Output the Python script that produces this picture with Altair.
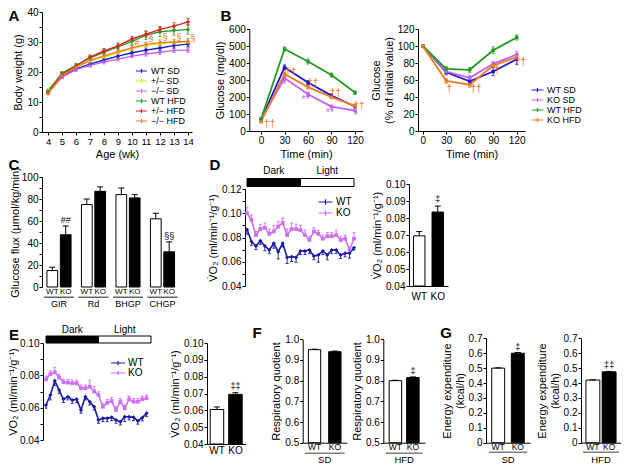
import altair as alt
import pandas as pd

W, H = 613, 457
M = 8
FONT = "Liberation Sans"
SIGC = "#ee6a1e"
VO2 = "V\u0307O\u2082 (ml/min\u207b\u00b9/g\u207b\u00b9)"


def cx(p):
    return p - M


def cy(p):
    return p - M


def sym_path(half_w):
    return f"M-{half_w},0L{half_w},0M0,-0.6L0,0.6"


# ---------------- A: body weight ----------------
weeks = [4, 5, 6, 7, 8, 9, 10, 11, 12, 13, 14]
bw_names = ["WT SD", "+/\u2212 SD", "\u2212/\u2212 SD", "WT HFD", "+/\u2212 HFD", "\u2212/\u2212 HFD"]
bw_colors = ["#1c1cc8", "#c6ee3e", "#c262f2", "#249a24", "#e2201e", "#f27a22"]
bw_wt_sd = [13.5, 18.5, 21.0, 22.6, 24.0, 25.3, 26.4, 27.3, 28.0, 28.8, 29.3]
bw_het_sd = [14.0, 19.0, 21.6, 23.6, 25.0, 26.4, 27.8, 28.8, 29.4, 29.8, 30.0]
bw_ko_sd = [13.0, 18.3, 20.8, 22.2, 23.3, 24.3, 25.3, 26.0, 26.6, 27.2, 27.3]
bw_wt_hfd = [13.6, 19.6, 22.2, 24.6, 26.6, 28.4, 30.2, 32.3, 33.4, 33.8, 34.2]
bw_het_hfd = [13.0, 19.2, 22.0, 25.0, 27.0, 28.7, 31.0, 32.6, 34.2, 35.3, 36.7]
bw_ko_hfd = [12.8, 18.8, 21.6, 23.9, 25.4, 26.8, 28.0, 29.2, 29.8, 30.0, 30.2]
bw_values = [bw_wt_sd, bw_het_sd, bw_ko_sd, bw_wt_hfd, bw_het_hfd, bw_ko_hfd]
bw_errors = [
    [0.5, 0.6, 0.6, 0.6, 0.6, 0.7, 0.7, 0.7, 0.8, 0.8, 0.8],
    [0.6, 0.6, 0.6, 0.7, 0.7, 0.8, 0.8, 0.9, 0.9, 0.9, 1.0],
    [0.4, 0.5, 0.5, 0.5, 0.6, 0.6, 0.6, 0.7, 0.7, 0.7, 0.8],
    [0.5, 0.6, 0.7, 0.8, 0.9, 1.0, 1.2, 1.4, 1.5, 1.5, 1.6],
    [0.5, 0.6, 0.6, 0.7, 0.8, 0.9, 0.9, 1.0, 1.0, 1.1, 1.1],
    [0.4, 0.5, 0.6, 0.6, 0.7, 0.7, 0.8, 0.8, 0.9, 0.9, 0.9],
]
sigA_weeks = [10, 11, 12, 13, 14]
sigA_vals = [29.8, 31.5, 31.8, 31.8, 31.5]
sigA_text = ["#", "\u00a7", "\u00a7", "\u00a7", "\u00a7"]

# ---------------- B: glucose tolerance ----------------
times = [0, 30, 60, 90, 120]
glc_names = ["WT SD", "KO SD", "WT HFD", "KO HFD"]
glc_colors = ["#1c1cc8", "#c262f2", "#249a24", "#f27a22"]
glc_wt_sd = [65, 374, 285, 208, 144]
glc_ko_sd = [65, 311, 216, 144, 120]
glc_wt_hfd = [71, 482, 409, 329, 226]
glc_ko_hfd = [55, 336, 258, 199, 148]
glc_errors = [[5, 15, 12, 10, 8], [5, 12, 12, 8, 6], [6, 12, 15, 12, 10], [4, 12, 10, 8, 8]]
sigBL_t = [11, 38, 30, 66, 57, 95, 88, 125, 121]
sigBL_v = [42, 350, 268, 285, 185, 222, 104, 148, 86]
sigBL_text = ["\u2020\u2020", "\u2020\u2020", "*", "\u2020\u2020", "**", "\u2020\u2020", "**", "\u2020\u2020", "*"]
sigBL_series = ["KO HFD", "KO HFD", "KO SD", "KO HFD", "KO SD", "KO HFD", "KO SD", "KO HFD", "KO SD"]

pct_wt_sd = [100, 69, 58.5, 70, 84.5]
pct_ko_sd = [100, 70, 62.5, 79, 90]
pct_wt_hfd = [100, 73, 72, 95, 110]
pct_ko_hfd = [100, 59, 54.5, 77, 87]
pct_errors = [[0, 3, 3, 5, 6], [0, 3, 3, 3, 4], [0, 3, 3, 4, 3], [0, 3, 3, 3, 3]]
sigBR_t = [34, 68, 95, 125]
sigBR_v = [49, 50, 72, 81]
sigBR_text = ["\u2020", "\u2020\u2020", "\u2020", "\u2020\u2020"]

# ---------------- C: clamp ----------------
c_groups = ["GIR", "Rd", "BHGP", "CHGP"]
c_wt = [15, 75, 84, 62]
c_ko = [47.5, 87, 81, 32]
c_wt_err = [3, 5, 6, 5]
c_ko_err = [8, 4, 3, 9]
c_sig = ["##", "", "", "\u00a7\u00a7"]

# ---------------- D / E: VO2 ----------------
vo2_names = ["WT", "KO"]
vo2_colors = ["#1a1aa6", "#cc6ff0"]
d_hours = list(range(25))
d_wt = [0.0867, 0.0766, 0.0730, 0.0774, 0.0730, 0.0697, 0.0752, 0.0683, 0.0752, 0.0636, 0.0642, 0.0636, 0.0689,
        0.0689, 0.0697, 0.0647, 0.0656, 0.0689, 0.0656, 0.0697, 0.0697, 0.0656, 0.0670, 0.0670, 0.0716]
d_ko = [0.1000, 0.0945, 0.0820, 0.0870, 0.0880, 0.0830, 0.0850, 0.0890, 0.0920, 0.0820, 0.0870, 0.0870, 0.0860,
        0.0820, 0.0780, 0.0850, 0.0830, 0.0790, 0.0810, 0.0810, 0.0820, 0.0780, 0.0790, 0.0700, 0.0790]
d_wt_err = [0.004, 0.003, 0.003, 0.003, 0.004, 0.003, 0.004, 0.006, 0.003, 0.005, 0.004, 0.004, 0.003,
            0.003, 0.003, 0.003, 0.006, 0.003, 0.004, 0.003, 0.003, 0.003, 0.003, 0.004, 0.002]
d_ko_err = [0.005, 0.004, 0.003, 0.004, 0.004, 0.004, 0.005, 0.004, 0.004, 0.005, 0.005, 0.004, 0.004,
            0.004, 0.003, 0.003, 0.003, 0.003, 0.003, 0.003, 0.004, 0.003, 0.003, 0.002, 0.005]
d_bar = [0.0695, 0.0835]
d_bar_err = [0.0025, 0.0035]
d_bar_sig = ["", "\u2021"]

e_hours = list(range(24))
e_wt = [0.0617, 0.0678, 0.0767, 0.0709, 0.0652, 0.0668, 0.0647, 0.0652, 0.0586, 0.0668, 0.0637, 0.0606,
        0.0524, 0.0534, 0.0534, 0.0540, 0.0524, 0.0513, 0.0544, 0.0544, 0.0540, 0.0518, 0.0538, 0.0565]
e_ko = [0.0775, 0.0808, 0.0819, 0.0786, 0.0757, 0.0755, 0.0751, 0.0751, 0.0720, 0.0720, 0.0730, 0.0700,
        0.0678, 0.0606, 0.0630, 0.0641, 0.0586, 0.0637, 0.0596, 0.0652, 0.0637, 0.0637, 0.0652, 0.0658]
e_wt_err = [0.002, 0.003, 0.003, 0.002, 0.002, 0.002, 0.002, 0.002, 0.002, 0.002, 0.002, 0.002,
            0.002, 0.002, 0.002, 0.002, 0.002, 0.002, 0.003, 0.002, 0.002, 0.002, 0.002, 0.002]
e_ko_err = [0.002, 0.002, 0.003, 0.002, 0.002, 0.002, 0.002, 0.002, 0.002, 0.002, 0.004, 0.003,
            0.002, 0.002, 0.002, 0.002, 0.002, 0.002, 0.002, 0.002, 0.002, 0.002, 0.002, 0.002]
e_bar = [0.0605, 0.0695]
e_bar_err = [0.0015, 0.001]
e_bar_sig = ["", "\u2021\u2021"]

phase_names = ["Dark", "Light"]
phase_start = [0, 12]
phase_end = [12, 24]

# ---------------- F / G ----------------
rq_sd = [0.95, 0.94]
rq_sd_err = [0.002, 0.003]
rq_hfd = [0.80, 0.815]
rq_hfd_err = [0.002, 0.003]
rq_hfd_sig = ["\u2021"]
ee_sd = [0.50, 0.60]
ee_sd_err = [0.002, 0.004]
ee_sd_sig = ["\u2021"]
ee_hfd = [0.42, 0.475]
ee_hfd_err = [0.002, 0.003]
ee_hfd_sig = ["\u2021\u2021"]

panel_letters = ["A", "B", "C", "D", "E", "F", "G"]


# ================= helpers =================
def lscale(dom, a, b):
    return alt.Scale(domain=dom, range=[a, b], nice=False, zero=False)


def yaxis(xpage, values, title, expr=None, fmt=None, tpad=None):
    kw = dict(orient="left", offset=-cx(xpage), values=values, title=title)
    if expr is not None:
        kw["labelExpr"] = expr
    if fmt is not None:
        kw["format"] = fmt
    if tpad is not None:
        kw["titlePadding"] = tpad
    return alt.Axis(**kw)


def xaxis(ypage, values, title, fmt=None, fs=None):
    kw = dict(orient="bottom", offset=cy(ypage) - H, values=values, title=title, labelAngle=0)
    if fmt is not None:
        kw["format"] = fmt
    if fs is not None:
        kw["labelFontSize"] = fs
    return alt.Axis(**kw)


def leg(xpage, ypage, fs, size, half_w):
    return alt.Legend(orient="none", legendX=cx(xpage), legendY=cy(ypage), title=None, labelFontSize=fs,
                      symbolType=sym_path(half_w), symbolSize=size, symbolStrokeWidth=1.2, labelOffset=5,
                      rowPadding=0, padding=0, labelFont=FONT)


def long_df(xname, xs, names, values, errors):
    rows = []
    for n, vs, es in zip(names, values, errors):
        for x, v, e in zip(xs, vs, es):
            rows.append({xname: x, "series": n, "val": v, "err": e})
    return pd.DataFrame(rows)


def err_layers(df, X, sy, ay, col, up, down, cap=3, sw=0.8):
    base = alt.Chart(df).transform_calculate(lo=down, hi=up)
    rule = base.mark_rule(strokeWidth=sw).encode(x=X, y=alt.Y("lo:Q", scale=sy, axis=ay), y2="hi:Q", color=col)
    c1 = base.mark_tick(orient="horizontal", size=cap, thickness=sw, opacity=1).encode(
        x=X, y=alt.Y("hi:Q", scale=sy, axis=ay), color=col)
    c2 = base.mark_tick(orient="horizontal", size=cap, thickness=sw, opacity=1).encode(
        x=X, y=alt.Y("lo:Q", scale=sy, axis=ay), color=col)
    return [rule, c1, c2]


BOTH_UP = "datum.val + datum.err"
BOTH_DN = "datum.val - datum.err"
KO_UP = "datum.series === 'KO' ? datum.val + datum.err : datum.val"
WT_DN = "datum.series === 'KO' ? datum.val : datum.val - datum.err"

# ================= Panel A =================
dfA = long_df("week", weeks, bw_names, bw_values, bw_errors)
sxA = lscale([3.57, 14.29], cx(42), cx(192))
syA = lscale([0, 40], cy(132), cy(12))
XA = alt.X("week:Q", scale=sxA, axis=xaxis(132, weeks, "Age (wk)", fmt="d", fs=9.5))
ayA = yaxis(42, list(range(0, 41, 5)), "Body weight (g)", expr="datum.value % 10 === 0 ? datum.label : ''")
YA = alt.Y("val:Q", scale=syA, axis=ayA)
colA = alt.Color("series:N", scale=alt.Scale(domain=bw_names, range=bw_colors), legend=leg(137, 66.5, 9, 49, 1.6))
sigA_df = pd.DataFrame({"week": sigA_weeks, "val": sigA_vals, "txt": sigA_text})
panelA = alt.layer(
    alt.Chart(dfA).mark_line(strokeWidth=1.4).encode(x=XA, y=YA, color=colA),
    *err_layers(dfA, XA, syA, ayA, colA, BOTH_UP, BOTH_DN, cap=3),
    alt.Chart(dfA).mark_point(shape="cross", filled=True, size=14, opacity=1).encode(x=XA, y=YA, color=colA),
    alt.Chart(sigA_df).mark_text(color=SIGC, fontSize=9, dx=5).encode(x=XA, y=YA, text="txt:N"),
)

# ================= Panel B left =================
dfBL = long_df("t", times, glc_names, [glc_wt_sd, glc_ko_sd, glc_wt_hfd, glc_ko_hfd], glc_errors)
sxBL = lscale([-15, 130], cx(249.3), cx(362.8))
syBL = lscale([0, 600], cy(131), cy(29))
XBL = alt.X("t:Q", scale=sxBL, axis=xaxis(131, times, "Time (min)", fmt="d"))
ayBL = yaxis(249.3, list(range(0, 601, 100)), "Glucose (mg/dl)")
YBL = alt.Y("val:Q", scale=syBL, axis=ayBL)
colBL = alt.Color("series:N", scale=alt.Scale(domain=glc_names, range=glc_colors), legend=None)
sigBL_df = pd.DataFrame({"t": sigBL_t, "val": sigBL_v, "txt": sigBL_text, "series": sigBL_series})
panelBL = alt.layer(
    alt.Chart(dfBL).mark_line(strokeWidth=1.8).encode(x=XBL, y=YBL, color=colBL),
    *err_layers(dfBL, XBL, syBL, ayBL, colBL, BOTH_UP, BOTH_DN, cap=3),
    alt.Chart(dfBL).mark_point(shape="square", filled=True, size=12, opacity=1).encode(x=XBL, y=YBL, color=colBL),
    alt.Chart(sigBL_df).mark_text(fontSize=10).encode(x=XBL, y=YBL, text="txt:N", color=colBL),
)

# ================= Panel B right =================
dfBR = long_df("t", times, glc_names, [pct_wt_sd, pct_ko_sd, pct_wt_hfd, pct_ko_hfd], pct_errors)
sxBR = lscale([-6, 130.6], cx(418), cx(525))
syBR = lscale([0, 120], cy(131), cy(29))
XBR = alt.X("t:Q", scale=sxBR, axis=xaxis(131, times, "Time (min)", fmt="d"))
ayBR = yaxis(418, list(range(0, 121, 20)), ["Glucose", "(% of initial value)"])
YBR = alt.Y("val:Q", scale=syBR, axis=ayBR)
colBR = alt.Color("series:N", scale=alt.Scale(domain=glc_names, range=glc_colors), legend=leg(533, 85.5, 9, 49, 1.7))
sigBR_df = pd.DataFrame({"t": sigBR_t, "val": sigBR_v, "txt": sigBR_text})
panelBR = alt.layer(
    alt.Chart(dfBR).mark_line(strokeWidth=1.8).encode(x=XBR, y=YBR, color=colBR),
    *err_layers(dfBR, XBR, syBR, ayBR, colBR, BOTH_UP, BOTH_DN, cap=3),
    alt.Chart(dfBR).mark_point(shape="square", filled=True, size=12, opacity=1).encode(x=XBR, y=YBR, color=colBR),
    alt.Chart(sigBR_df).mark_text(fontSize=10, color=SIGC).encode(x=XBR, y=YBR, text="txt:N"),
)


# ================= grouped bar panels =================
def grouped_bars(groups, wt, ko, wt_err, ko_err, sig, ydom, ybot, ytop, yx, yvals, ytitle, yexpr,
                 xr, gpi, gpo, opi, opo, lab_y, line_y, grp_y, domain_line, lab_fs=9, grp_fs=9.5, tpad=None):
    rows = []
    for g, a, b, ea, eb, s in zip(groups, wt, ko, wt_err, ko_err, sig):
        rows.append(dict(grp=g, geno="WT", val=a, err=ea, sig=""))
        rows.append(dict(grp=g, geno="KO", val=b, err=eb, sig=s))
    df = pd.DataFrame(rows)
    gdf = pd.DataFrame({"grp": groups})
    sy = lscale(ydom, cy(ybot), cy(ytop))
    ay = yaxis(yx, yvals, ytitle, expr=yexpr, tpad=tpad)
    sx = alt.Scale(domain=groups, range=[cx(xr[0]), cx(xr[1])], paddingInner=gpi, paddingOuter=gpo)
    if domain_line:
        axx = alt.Axis(orient="bottom", offset=cy(ybot) - H, title=None, labels=False, ticks=False,
                       tickSize=0, domain=True)
    else:
        axx = None
    X = alt.X("grp:N", scale=sx, axis=axx)
    XO = alt.XOffset("geno:N", scale=alt.Scale(domain=["WT", "KO"], paddingInner=opi, paddingOuter=opo))
    Yv = alt.Y("val:Q", scale=sy, axis=ay)
    base = alt.Chart(df).transform_calculate(hi="datum.val + datum.err")
    return alt.layer(
        alt.Chart(df).mark_bar(stroke="black", strokeWidth=1).encode(
            x=X, xOffset=XO, y=Yv, y2=alt.datum(ydom[0]),
            fill=alt.condition("datum.geno === 'WT'", alt.value("white"), alt.value("black"))),
        base.mark_rule(strokeWidth=1, color="black").encode(x=X, xOffset=XO, y=Yv, y2="hi:Q"),
        base.mark_tick(orient="horizontal", size=6, thickness=1, color="black", opacity=1).encode(
            x=X, xOffset=XO, y=alt.Y("hi:Q", scale=sy, axis=ay)),
        base.mark_text(fontSize=9, baseline="bottom", dy=-1, color="black").encode(
            x=X, xOffset=XO, y=alt.Y("hi:Q", scale=sy, axis=ay), text="sig:N"),
        alt.Chart(df).mark_text(fontSize=lab_fs, baseline="middle", color="black").encode(
            x=X, xOffset=XO, y=alt.value(cy(lab_y)), text="geno:N"),
        alt.Chart(gdf).mark_bar(color="black").encode(x=X, y=alt.value(cy(line_y)), y2=alt.value(cy(line_y) + 0.9)),
        alt.Chart(gdf).mark_text(fontSize=grp_fs, baseline="middle", color="black").encode(
            x=X, y=alt.value(cy(grp_y)), text="grp:N"),
    )


def simple_bars(vals, errs, sig, ydom, ybot, ytop, yx, yvals, ytitle, yexpr, xr, pi, po, lab_pad):
    df = pd.DataFrame({"geno": ["WT", "KO"], "val": vals, "err": errs, "sig": sig})
    sy = lscale(ydom, cy(ybot), cy(ytop))
    ay = yaxis(yx, yvals, ytitle, expr=yexpr)
    X = alt.X("geno:N", scale=alt.Scale(domain=["WT", "KO"], range=[cx(xr[0]), cx(xr[1])], paddingInner=pi,
                                        paddingOuter=po),
              axis=alt.Axis(orient="bottom", offset=cy(ybot) - H, title=None, ticks=False, tickSize=0,
                            labelAngle=0, labelPadding=lab_pad, domain=True))
    Yv = alt.Y("val:Q", scale=sy, axis=ay)
    base = alt.Chart(df).transform_calculate(hi="datum.val + datum.err")
    return alt.layer(
        alt.Chart(df).mark_bar(stroke="black", strokeWidth=1).encode(
            x=X, y=Yv, y2=alt.datum(ydom[0]),
            fill=alt.condition("datum.geno === 'WT'", alt.value("white"), alt.value("black"))),
        base.mark_rule(strokeWidth=1, color="black").encode(x=X, y=Yv, y2="hi:Q"),
        base.mark_tick(orient="horizontal", size=6, thickness=1, color="black", opacity=1).encode(
            x=X, y=alt.Y("hi:Q", scale=sy, axis=ay)),
        base.mark_text(fontSize=9, baseline="bottom", dy=-2, color="black").encode(
            x=X, y=alt.Y("hi:Q", scale=sy, axis=ay), text="sig:N"),
    )


# ================= Panel C =================
panelC = grouped_bars(c_groups, c_wt, c_ko, c_wt_err, c_ko_err, c_sig, [0, 100], 287, 177, 42,
                      list(range(0, 101, 10)), "Glucose flux (\u03bcmol/kg/min)",
                      "datum.value % 20 === 0 ? datum.label : ''",
                      (44, 177.5), 0.13, 0, 0.2, 0.22, 291.5, 296.7, 303.5, False, lab_fs=8, grp_fs=9,
                      tpad=1)

vo2_ticks_d = [0.04, 0.05, 0.06, 0.07, 0.08, 0.09, 0.10, 0.11, 0.12]
vo2_ticks_e = [0.04, 0.05, 0.06, 0.07, 0.08, 0.09, 0.10]
EVEN2 = "round(datum.value * 100) % 2 === 0 ? format(datum.value, '.2f') : ''"


def vo2_line_panel(hours, wt, ko, wt_err, ko_err, xdom, xr, ybot, ytop, ydom, yticks, yx, legxy, leg_size,
                   leg_hw, bar_y, lab_y, tick_vals, tpad=None):
    df = long_df("hour", hours, vo2_names, [wt, ko], [wt_err, ko_err])
    sx = lscale(xdom, cx(xr[0]), cx(xr[1]))
    sy = lscale(ydom, cy(ybot), cy(ytop))
    X = alt.X("hour:Q", scale=sx, axis=xaxis(ybot, tick_vals, "Time (h)", fmt="d"))
    ay = yaxis(yx, yticks, VO2, expr=EVEN2, tpad=tpad)
    Yv = alt.Y("val:Q", scale=sy, axis=ay)
    col = alt.Color("series:N", scale=alt.Scale(domain=vo2_names, range=vo2_colors),
                    legend=leg(legxy[0], legxy[1], 10, leg_size, leg_hw))
    ph = pd.DataFrame({"phase": phase_names, "start": phase_start, "end": phase_end})
    phb = alt.Chart(ph).transform_calculate(mid="(datum.start + datum.end) / 2")
    return alt.layer(
        *err_layers(df, X, sy, ay, col, KO_UP, WT_DN, cap=3, sw=0.9),
        alt.Chart(df).mark_line(strokeWidth=1.6).encode(x=X, y=Yv, color=col),
        alt.Chart(df).transform_filter("datum.series === 'WT'").mark_point(
            shape="diamond", filled=True, size=16, opacity=1).encode(x=X, y=Yv, color=col),
        alt.Chart(df).transform_filter("datum.series === 'KO'").mark_point(
            shape="square", filled=True, size=14, opacity=1).encode(x=X, y=Yv, color=col),
        alt.Chart(ph).mark_rect(stroke="black", strokeWidth=1).encode(
            x=alt.X("start:Q", scale=sx, axis=None), x2="end:Q",
            y=alt.value(cy(bar_y[0])), y2=alt.value(cy(bar_y[1])),
            fill=alt.condition("datum.phase === 'Dark'", alt.value("black"), alt.value("white"))),
        phb.mark_text(fontSize=10, color="black").encode(
            x=alt.X("mid:Q", scale=sx, axis=None), y=alt.value(cy(lab_y)), text="phase:N"),
    )


panelDL = vo2_line_panel(d_hours, d_wt, d_ko, d_wt_err, d_ko_err, [-0.45, 24.67], (245, 357), 286, 189,
                         [0.04, 0.12], vo2_ticks_d, 245, (320, 196.5), 81, 1.55, (178.5, 186.5), 171,
                         list(range(0, 25, 3)))
panelDR = simple_bars(d_bar, d_bar_err, d_bar_sig, [0.04, 0.10], 286, 184, 409, vo2_ticks_e, VO2,
                      "format(datum.value, '.2f')", (409, 448), 0.38, 0.24, 5.5)
panelEL = vo2_line_panel(e_hours, e_wt, e_ko, e_wt_err, e_ko_err, [-0.686, 24.46], (43, 153), 440, 343,
                         [0.04, 0.10], vo2_ticks_e, 43, (113, 358), 49, 2.0, (336, 343), 330,
                         list(range(0, 25, 3)), tpad=1)
panelER = simple_bars(e_bar, e_bar_err, e_bar_sig, [0.04, 0.10], 444, 343, 207, vo2_ticks_e, VO2,
                      "format(datum.value, '.2f')", (206.7, 245.7), 0.27, 0.19, 1)

rq_ticks = [0.5, 0.6, 0.7, 0.8, 0.9, 1.0]
ee_ticks = [0, 0.1, 0.2, 0.3, 0.4, 0.5, 0.6, 0.7]
EEFMT = "datum.value === 0 ? '0' : format(datum.value, '.1f')"
panelFL = grouped_bars(["SD"], [rq_sd[0]], [rq_sd[1]], [rq_sd_err[0]], [rq_sd_err[1]], [""], [0.5, 1.0],
                       442.7, 339.3, 302.7, rq_ticks, "Respiratory quotient", "format(datum.value, '.1f')",
                       (302.7, 346.7), 0, 0.05, 0.394, 0.182, 447.3, 452.7, 459.5, True, lab_fs=8.5)
panelFR = grouped_bars(["HFD"], [rq_hfd[0]], [rq_hfd[1]], [rq_hfd_err[0]], [rq_hfd_err[1]], rq_hfd_sig,
                       [0.5, 1.0], 442.7, 339.3, 383.3, rq_ticks, "Respiratory quotient",
                       "format(datum.value, '.1f')", (383.3, 425), 0, 0.064, 0.286, 0.2, 447.3, 452.7, 459.5,
                       True, lab_fs=8.5)
panelGL = grouped_bars(["SD"], [ee_sd[0]], [ee_sd[1]], [ee_sd_err[0]], [ee_sd_err[1]], ee_sd_sig, [0, 0.7],
                       442.7, 338.3, 486, ee_ticks, ["Energy expenditure", "(kcal/h)"], EEFMT,
                       (486, 530), 0, 0.074, 0.34, 0.147, 446.7, 451.7, 460, True, lab_fs=8.5)
panelGR = grouped_bars(["HFD"], [ee_hfd[0]], [ee_hfd[1]], [ee_hfd_err[0]], [ee_hfd_err[1]], ee_hfd_sig,
                       [0, 0.7], 442.7, 338.3, 581, ee_ticks, ["Energy expenditure", "(kcal/h)"], EEFMT,
                       (581, 621), 0, 0.056, 0.145, 0.18, 446.7, 451.7, 460, True, lab_fs=8.5)

# ================= panel letters =================
letter_pos = {"A": (14, 16), "B": (226, 16), "C": (14, 165), "D": (215, 165), "E": (14, 335), "F": (257, 333),
              "G": (446, 333)}
letters = []
for L in panel_letters:
    px_, py_ = letter_pos[L]
    letters.append(alt.Chart(pd.DataFrame({"t": [L]})).mark_text(fontSize=15, fontWeight="bold", color="black",
                                                                  baseline="middle", align="center").encode(
        text="t:N", x=alt.value(cx(px_)), y=alt.value(cy(py_))))

chart = alt.layer(
    panelA, panelBL, panelBR, panelC, panelDL, panelDR, panelEL, panelER,
    panelFL, panelFR, panelGL, panelGR, *letters
).resolve_scale(
    x="independent", y="independent", color="independent", xOffset="independent"
).resolve_axis(
    x="independent", y="independent"
).resolve_legend(
    color="independent"
).properties(
    width=W, height=H, padding=0, autosize=alt.AutoSizeParams(type="none")
).configure(
    font=FONT
).configure_view(
    stroke=None
).configure_axis(
    grid=False, domainColor="black", tickColor="black", labelColor="black", titleColor="black",
    labelFontSize=10, titleFontSize=11, titleFontWeight="normal", tickSize=3, labelPadding=1, titlePadding=3,
    labelFlush=False, labelOverlap=False, domainWidth=1, tickWidth=1, labelFont=FONT, titleFont=FONT
).configure_legend(
    labelFont=FONT, labelColor="black"
).configure_text(font=FONT)

chart.save("out.html", embed_options={"renderer": "svg", "actions": False})
